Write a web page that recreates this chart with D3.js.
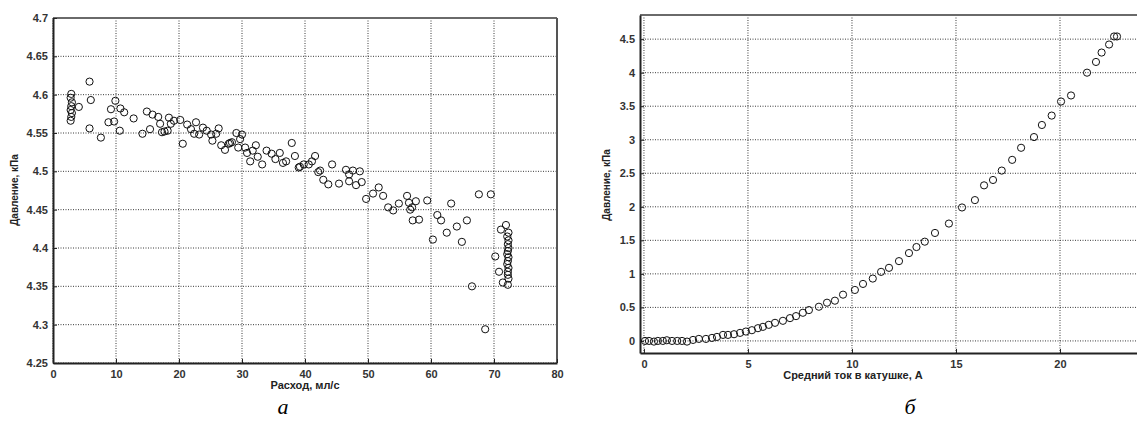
<!DOCTYPE html>
<html>
<head>
<meta charset="utf-8">
<script src="https://cdn.jsdelivr.net/npm/d3@7"></script>
<style>
  body { margin: 0; background: #fff; }
  svg text { font-family: "Liberation Sans", Arial, sans-serif; }
</style>
</head>
<body>
<svg id="chart" width="1137" height="428"></svg>
<script>
// panel a: flow rate vs pressure
var flowX = [2.9, 2.8, 3.0, 2.9, 2.8, 3.0, 2.9, 2.8, 4.1, 5.8, 6.0, 5.8, 7.6, 8.8, 9.2, 9.7, 9.9, 10.6,
  10.7, 11.3, 12.8, 14.2, 14.9, 15.4, 15.8, 16.7, 17.0, 17.3, 17.7, 18.2, 18.4, 18.7, 19.2, 20.2,
  20.6, 21.3, 21.9, 22.7, 22.4, 23.2, 23.8, 24.4, 25.1, 25.3, 25.9, 26.3, 26.7, 27.3, 27.9, 28.1,
  28.4, 29.1, 29.4, 30.0, 29.7, 30.5, 30.8, 31.3, 31.7, 32.2, 32.5, 33.2, 33.9, 34.7, 35.3, 36.0,
  36.5, 37.0, 37.9, 38.4, 39.0, 39.2, 39.8, 40.6, 41.1, 41.6, 42.1, 42.4, 42.9, 43.7, 44.3, 45.4,
  46.5, 47.0, 47.0, 47.6, 48.1, 48.7, 49.0, 49.7, 50.8, 51.7, 52.4, 53.2, 54.0, 54.9, 56.2, 56.5,
  56.7, 57.0, 57.6, 57.1, 58.1, 59.4, 60.3, 61.0, 61.6, 62.5, 63.2, 64.1, 64.9, 65.7, 66.5, 67.6,
  69.5, 68.6, 70.2, 70.8, 71.1, 71.4, 71.9, 72.1, 72.3, 72.2, 72.3, 72.2, 72.1, 72.3, 72.2, 72.1,
  72.3, 72.2, 72.2, 72.3, 72.2, 72.3];
var flowP = [4.601, 4.596, 4.590, 4.585, 4.580, 4.576, 4.571, 4.566, 4.584, 4.617, 4.593, 4.556,
  4.544, 4.564, 4.581, 4.565, 4.592, 4.553, 4.582, 4.577, 4.569, 4.549, 4.578, 4.555, 4.574, 4.571,
  4.562, 4.551, 4.552, 4.553, 4.570, 4.562, 4.566, 4.567, 4.536, 4.561, 4.555, 4.564, 4.549, 4.548,
  4.557, 4.553, 4.548, 4.540, 4.549, 4.556, 4.534, 4.528, 4.536, 4.537, 4.538, 4.550, 4.531, 4.548,
  4.542, 4.531, 4.524, 4.513, 4.527, 4.534, 4.519, 4.509, 4.527, 4.523, 4.516, 4.524, 4.511, 4.513,
  4.537, 4.520, 4.505, 4.506, 4.509, 4.509, 4.513, 4.520, 4.499, 4.501, 4.489, 4.483, 4.509, 4.484,
  4.502, 4.496, 4.487, 4.501, 4.482, 4.500, 4.486, 4.464, 4.471, 4.479, 4.468, 4.453, 4.449, 4.458,
  4.468, 4.459, 4.450, 4.453, 4.461, 4.436, 4.437, 4.462, 4.411, 4.443, 4.436, 4.420, 4.458, 4.428,
  4.408, 4.436, 4.350, 4.470, 4.470, 4.294, 4.389, 4.369, 4.424, 4.355, 4.430, 4.415, 4.410, 4.405,
  4.400, 4.396, 4.392, 4.388, 4.383, 4.379, 4.374, 4.369, 4.365, 4.360, 4.352, 4.420];
var flowXTicks = [0, 10, 20, 30, 40, 50, 60, 70, 80];
var flowYTicks = [4.25, 4.3, 4.35, 4.4, 4.45, 4.5, 4.55, 4.6, 4.65, 4.7];

// panel b: coil current vs pressure
var currX = [0.05, 0.24, 0.48, 0.67, 0.91, 1.1, 1.35, 1.6, 1.83, 2.07, 2.36, 2.64, 2.98, 3.27, 3.51,
  3.8, 4.04, 4.33, 4.62, 4.9, 5.19, 5.48, 5.72, 6.0, 6.3, 6.68, 7.02, 7.31, 7.64, 7.93, 8.41, 8.8,
  9.18, 9.57, 10.14, 10.53, 11.0, 11.4, 11.78, 12.26, 12.74, 13.1, 13.5, 13.99, 14.66, 15.29, 15.91,
  16.35, 16.78, 17.2, 17.7, 18.13, 18.75, 19.13, 19.6, 20.05, 20.53, 21.3, 21.73, 22.0, 22.36, 22.6,
  22.74];
var currP = [0.0, 0.0, -0.01, 0.0, 0.0, 0.01, 0.0, 0.0, 0.0, -0.01, 0.015, 0.03, 0.03, 0.045, 0.06,
  0.09, 0.09, 0.1, 0.12, 0.14, 0.16, 0.19, 0.21, 0.24, 0.27, 0.3, 0.34, 0.37, 0.42, 0.46, 0.51, 0.57,
  0.6, 0.69, 0.76, 0.85, 0.93, 1.03, 1.09, 1.19, 1.31, 1.4, 1.48, 1.61, 1.75, 1.99, 2.1, 2.32, 2.4,
  2.54, 2.7, 2.88, 3.04, 3.22, 3.36, 3.57, 3.66, 4.0, 4.16, 4.3, 4.42, 4.54, 4.54];
var currXTicks = [0, 5, 10, 15, 20];
var currYTicks = [0, 0.5, 1, 1.5, 2, 2.5, 3, 3.5, 4, 4.5];

var svg = d3.select("#chart");

function drawPanel(opt) {
    var g = svg.append("g");
    var x = d3.scaleLinear().domain(opt.xDomain).range([opt.left, opt.right]);
    var y = d3.scaleLinear().domain(opt.yDomain).range([opt.bottom, opt.top]);

    g.append("clipPath").attr("id", opt.id + "-clip")
        .append("rect")
        .attr("x", opt.left).attr("y", opt.top)
        .attr("width", opt.right - opt.left).attr("height", opt.bottom - opt.top);

    // dotted grid
    g.append("g").selectAll("line").data(opt.xTicks).join("line")
        .attr("x1", d => x(d)).attr("x2", d => x(d))
        .attr("y1", opt.top).attr("y2", opt.bottom)
        .attr("stroke", "#3a3a3a").attr("stroke-width", 1)
        .attr("stroke-dasharray", "1,1.5");
    g.append("g").selectAll("line").data(opt.yTicks).join("line")
        .attr("x1", opt.left).attr("x2", opt.right)
        .attr("y1", d => y(d)).attr("y2", d => y(d))
        .attr("stroke", "#3a3a3a").attr("stroke-width", 1)
        .attr("stroke-dasharray", "1,1.5");

    // box: top and right lighter, left and bottom dark
    g.append("line").attr("x1", opt.left).attr("x2", opt.right).attr("y1", opt.top).attr("y2", opt.top)
        .attr("stroke", "#6a6a6a").attr("stroke-width", 2);
    g.append("line").attr("x1", opt.right).attr("x2", opt.right).attr("y1", opt.top).attr("y2", opt.bottom)
        .attr("stroke", "#555").attr("stroke-width", 2);

    var xAxis = g.append("g").attr("transform", "translate(0," + opt.bottom + ")")
        .call(d3.axisBottom(x).tickValues(opt.xTicks).tickSizeInner(-4).tickSizeOuter(0).tickPadding(7)
            .tickFormat(d3.format("")));
    var yAxis = g.append("g").attr("transform", "translate(" + opt.left + ",0)")
        .call(d3.axisLeft(y).tickValues(opt.yTicks).tickSizeInner(-4).tickSizeOuter(0).tickPadding(5)
            .tickFormat(d3.format("")));
    [xAxis, yAxis].forEach(function (a) {
        a.select(".domain").attr("stroke", "#222").attr("stroke-width", 2);
        a.selectAll(".tick line").attr("stroke", "#222");
        a.selectAll("text").attr("font-size", "11px").attr("font-weight", "bold").attr("fill", "#333");
    });

    // markers
    g.append("g").attr("clip-path", "url(#" + opt.id + "-clip)")
        .selectAll("circle").data(opt.xs).join("circle")
        .attr("cx", d => x(d))
        .attr("cy", (d, i) => y(opt.ys[i]))
        .attr("r", 3.6)
        .attr("fill", "none")
        .attr("stroke", "#111")
        .attr("stroke-width", 1);

    g.append("text")
        .attr("x", opt.xLabelX).attr("y", opt.xLabelY)
        .attr("text-anchor", "middle")
        .attr("font-size", "11px").attr("font-weight", "bold").attr("fill", "#222")
        .text(opt.xLabel);
    g.append("text")
        .attr("transform", "translate(" + opt.yLabelX + "," + opt.yLabelY + ") rotate(-90)")
        .attr("text-anchor", "middle")
        .attr("font-size", "10px").attr("font-weight", "bold").attr("fill", "#222")
        .text(opt.yLabel);
    g.append("text")
        .attr("x", opt.capX).attr("y", 414)
        .attr("text-anchor", "middle")
        .style("font-family", "'Liberation Serif', 'Times New Roman', serif")
        .style("font-style", "italic")
        .attr("font-size", "22px").attr("fill", "#000")
        .text(opt.caption);
}

drawPanel({
    id: "pa", left: 53, right: 557, top: 18, bottom: 363,
    xDomain: [0, 80], yDomain: [4.25, 4.7],
    xTicks: flowXTicks, yTicks: flowYTicks,
    xs: flowX, ys: flowP,
    xLabel: "Расход, мл/с", xLabelX: 305, xLabelY: 389,
    yLabel: "Давление, кПа", yLabelX: 18, yLabelY: 190,
    caption: "а", capX: 283
});

drawPanel({
    id: "pb", left: 640, right: 1143, top: 15, bottom: 353,
    xDomain: [-0.19, 23.99], yDomain: [-0.18, 4.86],
    xTicks: currXTicks, yTicks: currYTicks,
    xs: currX, ys: currP,
    xLabel: "Средний ток в катушке, А", xLabelX: 853, xLabelY: 379,
    yLabel: "Давление, кПа", yLabelX: 610, yLabelY: 185,
    caption: "б", capX: 910
});
</script>
</body>
</html>
